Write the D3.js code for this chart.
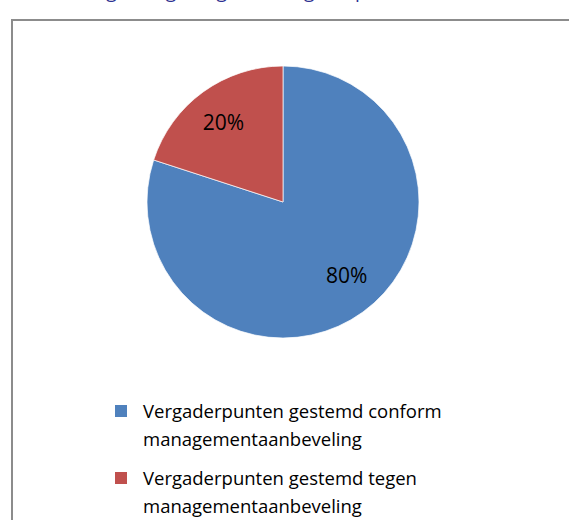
<!DOCTYPE html>
<html>
<head>
<meta charset="utf-8">
<script src="https://cdn.jsdelivr.net/npm/d3@7"></script>
<style>
  body { margin: 0; background: #fff; }
</style>
</head>
<body>
<div id="chart"></div>
<script>
var categories = ["Vergaderpunten gestemd conform managementaanbeveling",
                  "Vergaderpunten gestemd tegen managementaanbeveling"];
var legendLines = [["Vergaderpunten gestemd conform", "managementaanbeveling"],
                   ["Vergaderpunten gestemd tegen", "managementaanbeveling"]];
var values = [80, 20];
var colors = ["#4F81BD", "#C0504D"];
var title = "Verdeling stemgedrag over vergaderpunten";

var width = 569, height = 520;
var font = "'Open Sans', 'Noto Sans', sans-serif";

var svg = d3.select("#chart")
  .append("svg")
  .attr("width", width)
  .attr("height", height);

// title, mostly cut off at the top of the page
svg.append("text")
  .attr("x", 33)
  .attr("y", -2)
  .style("font-family", font)
  .style("font-size", "19px")
  .style("fill", "#2E3192")
  .text(title);

// chart frame
svg.append("rect")
  .attr("x", 12)
  .attr("y", 20)
  .attr("width", 600)
  .attr("height", 560)
  .style("fill", "none")
  .style("stroke", "#8c8c8c")
  .style("stroke-width", 2);

var cx = 283, cy = 202, r = 136;

var pie = d3.pie().sort(null);
var arcs = pie(values);

var arc = d3.arc().innerRadius(0).outerRadius(r);
var labelArc = d3.arc().innerRadius(98).outerRadius(98);

var g = svg.append("g")
  .attr("transform", "translate(" + cx + "," + cy + ")");

g.selectAll(".slice")
  .data(arcs)
  .enter().append("path")
  .attr("class", "slice")
  .attr("d", arc)
  .style("fill", function(d, i) { return colors[i]; })
  .style("stroke", "#fff")
  .style("stroke-width", 0.7);

g.selectAll(".label")
  .data(arcs)
  .enter().append("text")
  .attr("class", "label")
  .attr("transform", function(d) {
    var c = labelArc.centroid(d);
    // excel nudges the big slice label up and right a little
    if (d.index === 0) { c[0] += 6; c[1] -= 6; }
    else { c[0] -= 2; }
    return "translate(" + c + ")";
  })
  .attr("text-anchor", "middle")
  .attr("dy", "0.35em")
  .style("font-family", font)
  .style("font-size", "21px")
  .style("fill", "#000")
  .text(function(d) {
    var total = d3.sum(values);
    return Math.round(d.data / total * 100) + "%";
  });

// legend
var legend = svg.selectAll(".legend")
  .data(categories)
  .enter().append("g")
  .attr("class", "legend")
  .attr("transform", function(d, i) { return "translate(115," + (405 + i * 67) + ")"; });

legend.append("rect")
  .attr("width", 12)
  .attr("height", 12)
  .style("fill", function(d, i) { return colors[i]; });

legend.append("text")
  .attr("x", 28)
  .attr("y", 13)
  .style("font-family", font)
  .style("font-size", "18.5px")
  .style("fill", "#000")
  .selectAll("tspan")
  .data(function(d, i) { return legendLines[i]; })
  .enter().append("tspan")
  .attr("x", 28)
  .attr("dy", function(d, j) { return j === 0 ? 0 : 28; })
  .text(function(d) { return d; });
</script>
</body>
</html>
